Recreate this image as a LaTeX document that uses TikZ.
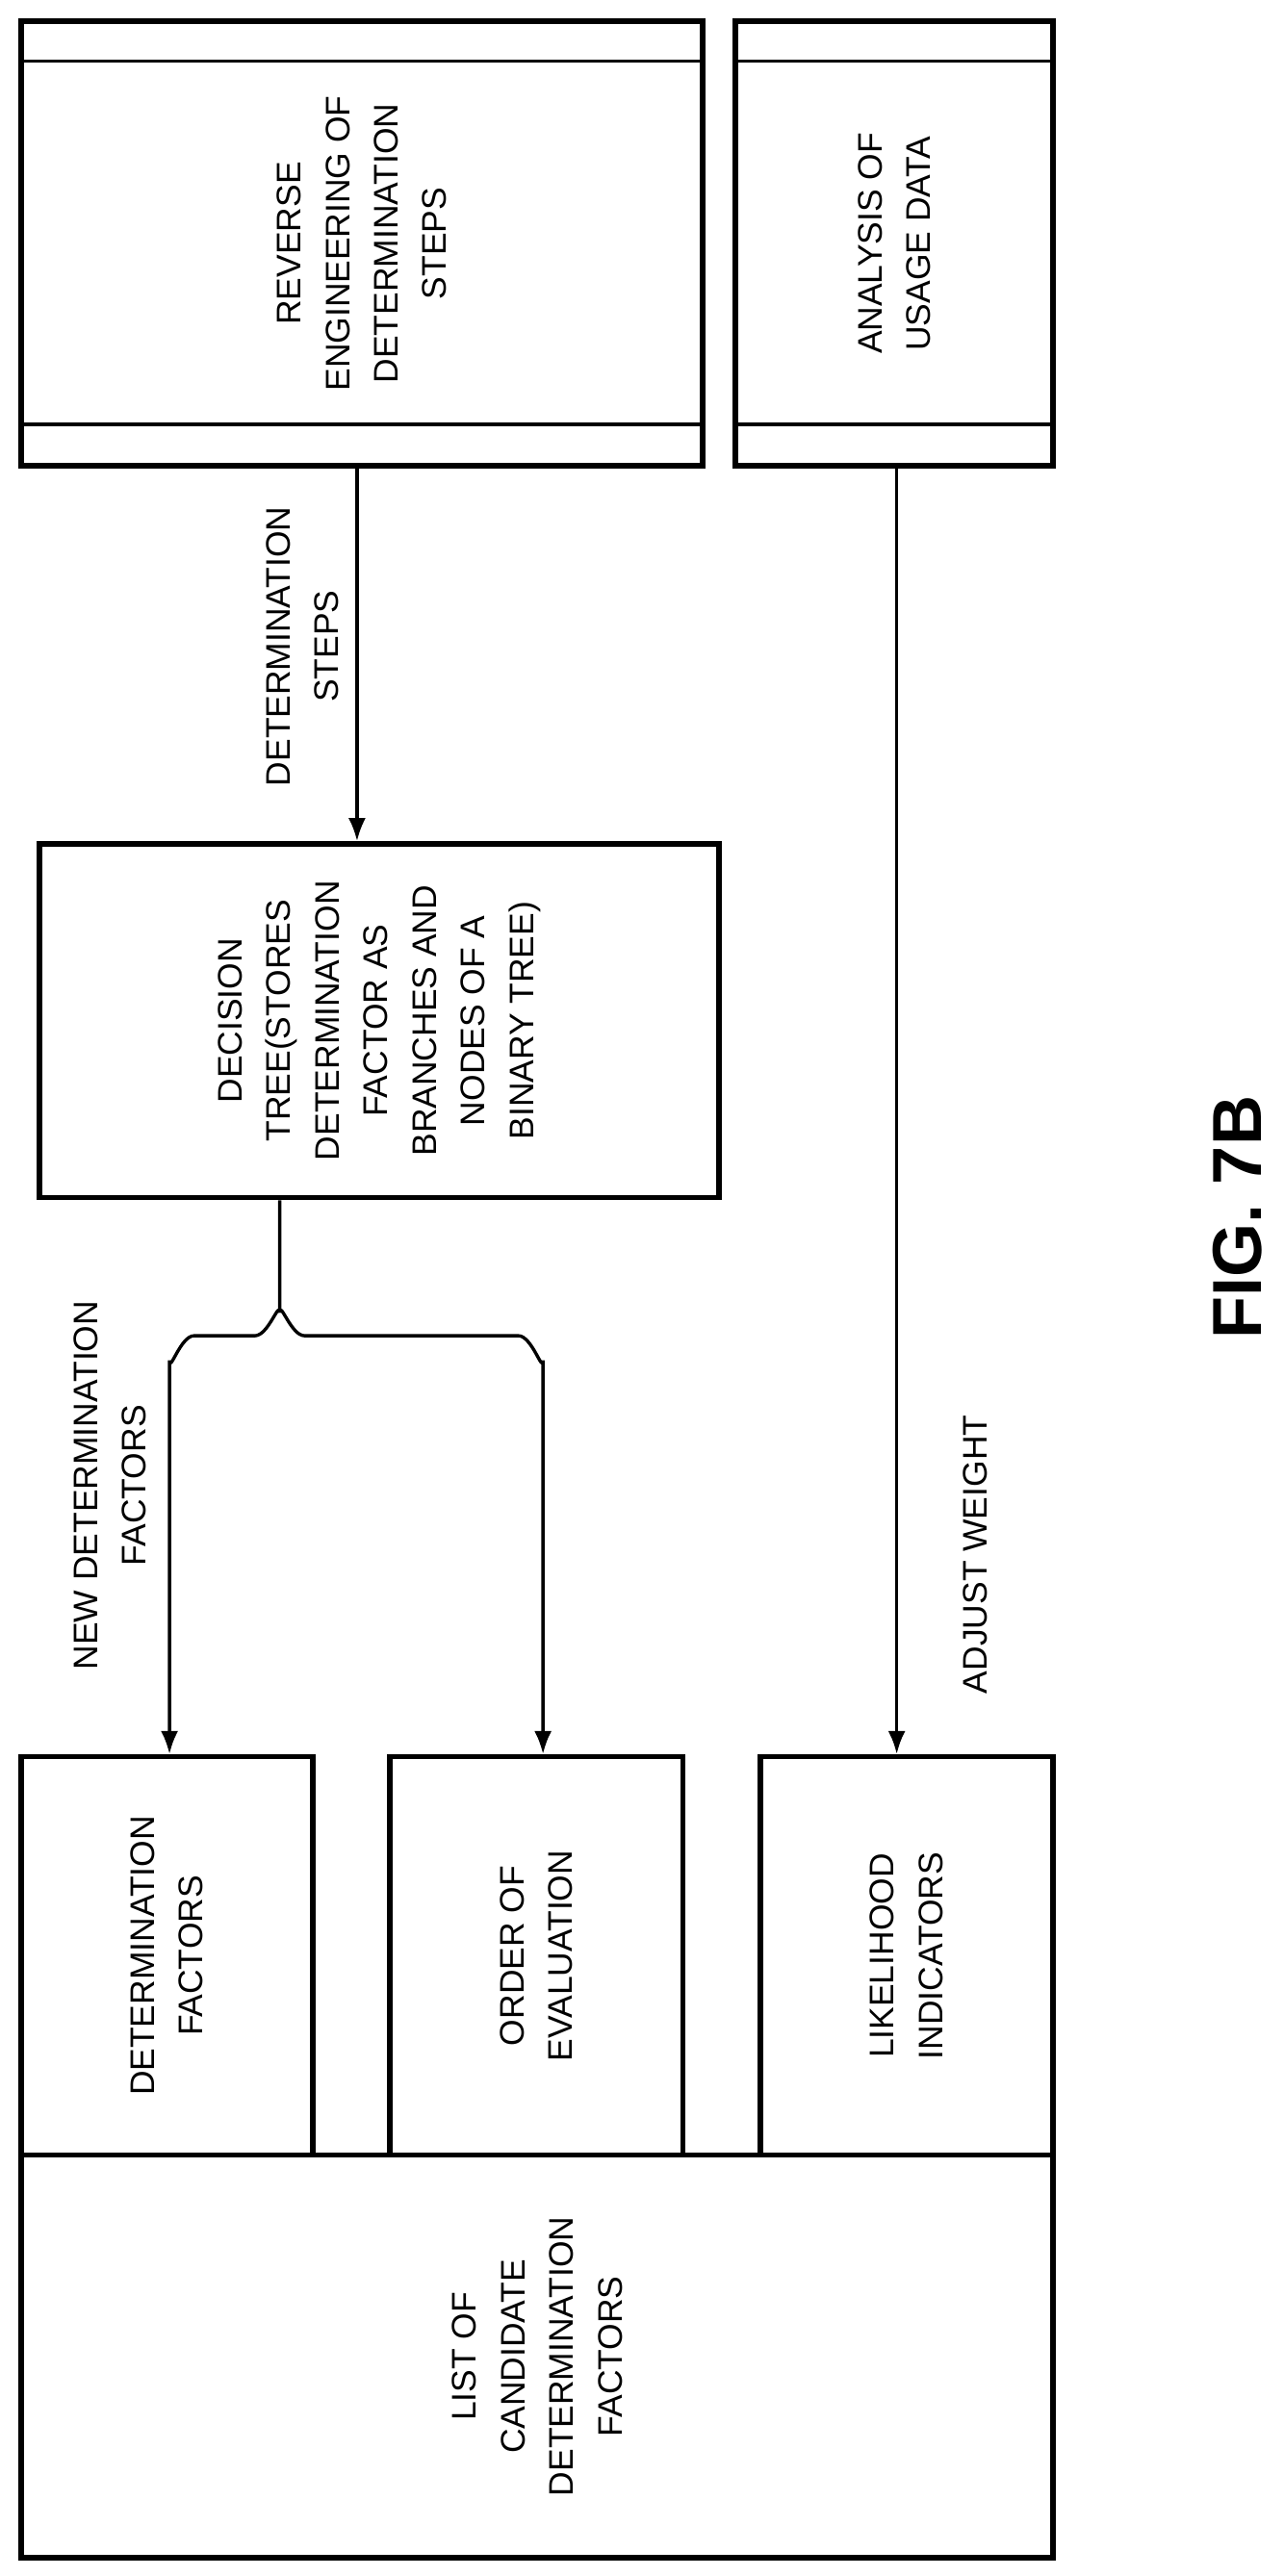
\documentclass[tikz,border=0pt]{standalone}
\usepackage{fontspec}
\setmainfont{Liberation Sans}
\usetikzlibrary{arrows.meta}
\begin{document}
\begin{tikzpicture}[
    x=0.05cm, y=-0.05cm,
    box/.style={draw, line width=4.6pt, rectangle, inner sep=0pt},
    lbl/.style={rotate=90, align=center, font=\fontsize{29.5}{42}\selectfont},
    arrow/.style={-{Latex[length=20pt,width=15pt]}, line width=2.8pt}
]
\useasboundingbox (0,0) rectangle (780,1566);

% upper row
\node[box, minimum width=20.7cm, minimum height=13.5cm] (rev) at (220,148) {};
\node[box, minimum width=9.65cm, minimum height=13.5cm] (usage) at (543.5,148) {};
\draw[line width=2.6pt] (13,37) -- (427,37) (13,258) -- (427,258);
\draw[line width=2.6pt] (447,37) -- (640,37) (447,258) -- (640,258);
\node[lbl] at (rev) {REVERSE\\ENGINEERING OF\\DETERMINATION\\STEPS};
\node[lbl] at (usage) {ANALYSIS OF\\USAGE DATA};

% decision tree
\node[box, minimum width=20.65cm, minimum height=10.75cm] (tree) at (230.5,620.5) {};
\node[lbl] at (tree) {DECISION\\TREE(STORES\\DETERMINATION\\FACTOR AS\\BRANCHES AND\\NODES OF A\\BINARY TREE)};

% lower row
\node[box, minimum width=8.85cm, minimum height=12.1cm] (detf) at (101.5,1189) {};
\node[box, minimum width=8.9cm, minimum height=12.1cm] (order) at (326,1189) {};
\node[box, minimum width=8.9cm, minimum height=12.1cm] (likely) at (551,1189) {};
\node[box, minimum width=31.35cm, minimum height=12.25cm] (list) at (326.5,1432.5) {};
\node[lbl] at (detf) {DETERMINATION\\FACTORS};
\node[lbl] at (order) {ORDER OF\\EVALUATION};
\node[lbl] at (likely) {LIKELIHOOD\\INDICATORS};
\node[lbl] at (list) {LIST OF\\CANDIDATE\\DETERMINATION\\FACTORS};

% connectors
\coordinate (xa) at (217,0);
\coordinate (xb) at (545,0);
\coordinate (xc) at (170,0);
\coordinate (xl) at (103,0);
\coordinate (xr) at (330,0);
\draw[arrow] (rev.south -| xa) -- (tree.north -| xa);
\draw[arrow] (usage.south -| xb) -- (likely.north -| xb);
\draw[arrow] (tree.south -| xc) -- (170,798) to[out=90,in=0] (155,812) -- (118,812)
    to[out=180,in=-90] (103,827) -- (detf.north -| xl);
\draw[arrow] (170,798) to[out=90,in=180] (185,812) -- (315,812)
    to[out=0,in=-90] (330,827) -- (order.north -| xr);

% labels
\node[lbl] (steps) at (184,393) {DETERMINATION\\STEPS};
\node[lbl] (newf) at (67,903) {NEW DETERMINATION\\FACTORS};
\node[lbl] (adj) at (593,945) {ADJUST WEIGHT};
\node[rotate=90, font=\fontsize{60}{64}\selectfont\bfseries] (fig) at (752,740) {FIG. 7B};
\end{tikzpicture}
\end{document}
